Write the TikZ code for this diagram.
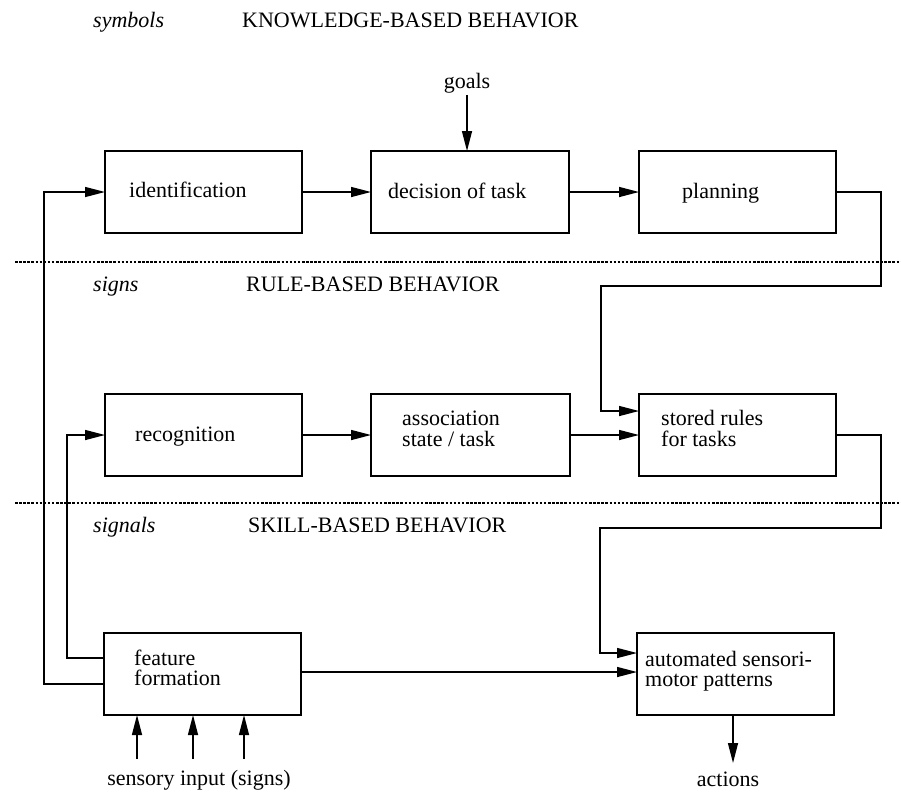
\documentclass[tikz,border=0pt]{standalone}
\usepackage{fontspec}
\setmainfont{Liberation Serif}
\usetikzlibrary{arrows.meta}
\begin{document}
\begin{tikzpicture}[x=1pt,y=-1pt,
  font=\fontsize{22}{21}\selectfont,
  box/.style={draw,line width=1.7pt,inner sep=0pt,outer sep=0pt,minimum height=82pt},
  txt/.style={anchor=base west,inner sep=0pt},
  ctxt/.style={anchor=base,inner sep=0pt},
  conn/.style={line width=1.4pt},
  arr/.style={conn,-{Triangle[length=20pt,width=10pt]}},
  sep/.style={line width=2.6pt,dash pattern=on 2.5pt off 1.6pt}]
\useasboundingbox (0,0) rectangle (901,793);

% level labels
\node[txt] (l1a) at (93,27) {\textit{symbols}};
\node[txt] (l1b) at (242,27) {KNOWLEDGE-BASED BEHAVIOR};
\node[txt] (l2a) at (93,291) {\textit{signs}};
\node[txt] (l2b) at (246,291) {RULE-BASED BEHAVIOR};
\node[txt] (l3a) at (93,532) {\textit{signals}};
\node[txt] (l3b) at (248,532) {SKILL-BASED BEHAVIOR};

% separators
\coordinate (d1a) at (15,262); \coordinate (d1b) at (901,262);
\coordinate (d2a) at (15,503); \coordinate (d2b) at (901,503);
\draw[sep] (d1a) -- (d1b);
\draw[sep] (d2a) -- (d2b);

% boxes
\node[box,minimum width=197pt] (id) at (203.5,192) {};
\node[box,minimum width=198pt] (dec) at (470,192) {};
\node[box,minimum width=197pt] (plan) at (737.5,192) {};
\node[box,minimum width=197pt] (rec) at (203.5,435) {};
\node[box,minimum width=199pt] (assoc) at (470.5,435) {};
\node[box,minimum width=197pt] (stored) at (737.5,435) {};
\node[box,minimum width=197pt] (feat) at (202.5,674) {};
\node[box,minimum width=197pt] (auto) at (735.5,674) {};

% box texts
\node[txt] (tid) at (129,197.5) {identification};
\node[txt] (tdec) at (388,198) {decision of task};
\node[txt] (tplan) at (682,198.5) {planning};
\node[txt] (trec) at (135,441.5) {recognition};
\node[txt] (tas1) at (402,425) {association};
\node[txt] (tas2) at (402,446.5) {state / task};
\node[txt] (tst1) at (661,425.5) {stored rules};
\node[txt] (tst2) at (661,446.5) {for tasks};
\node[txt] (tfe1) at (134,665) {feature};
\node[txt] (tfe2) at (134,685.5) {formation};
\node[txt] (tau1) at (645,666.5) {automated sensori-};
\node[txt] (tau2) at (645,686.5) {motor patterns};

% external texts
\node[ctxt] (goals) at (467,88) {goals};
\node[ctxt] (sens) at (199,785) {sensory input (signs)};
\node[ctxt] (act) at (728,786) {actions};

% helper points
\coordinate (k1) at (881,286);
\coordinate (k2) at (601,286);
\coordinate (k3) at (881,528);
\coordinate (k4) at (600,528);
\coordinate (s1) at (137,759);
\coordinate (s2) at (193,759);
\coordinate (s3) at (244,759);
\coordinate (a1) at (733,763);

% connectors
\draw[arr] (id.east) -- (dec.west);
\draw[arr] (dec.east) -- (plan.west);
\draw[arr] ([yshift=-2pt]goals.south) -- (goals.south |- dec.north);
\draw[arr] (plan.east) -| (k1) -- (k2) |- ([yshift=24pt]stored.west);
\draw[arr] (rec.east) -- (assoc.west);
\draw[arr] (assoc.east) -- (stored.west);
\draw[arr] (stored.east) -| (k3) -- (k4) |- ([yshift=21pt]auto.west);
\draw[arr] ([yshift=2pt]feat.east) -- ([yshift=2pt]auto.west);
\draw[arr] ([yshift=16pt]feat.west) -- ++(-37,0) |- (rec.west);
\draw[arr] ([yshift=-10pt]feat.west) -- ++(-60,0) |- (id.west);
\draw[arr] (s1) -- (s1 |- feat.south);
\draw[arr] (s2) -- (s2 |- feat.south);
\draw[arr] (s3) -- (s3 |- feat.south);
\draw[arr] (a1 |- auto.south) -- (a1);
\end{tikzpicture}
\end{document}
